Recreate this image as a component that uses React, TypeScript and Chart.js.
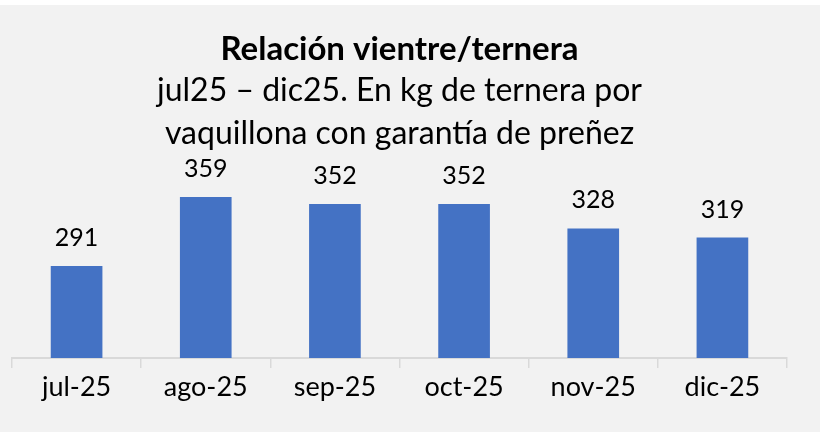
import React, { useEffect, useRef } from "react";
import { Chart, registerables } from "chart.js";

Chart.register(...registerables);

const categories = ["jul-25", "ago-25", "sep-25", "oct-25", "nov-25", "dic-25"];
const values = [291, 359, 352, 352, 328, 319];
const titleText = "Relación vientre/ternera";
const subtitleLines = ["jul25 – dic25. En kg de ternera por", "vaquillona con garantía de preñez"];
const yMin = 200;
const yMax = 400;

const FONT = "Lato, 'Noto Sans', sans-serif";

const bgPlugin = {
  id: "bgPlugin",
  beforeDraw(chart: any) {
    const { ctx, width, height } = chart;
    ctx.save();
    ctx.fillStyle = "#ffffff";
    ctx.fillRect(0, 0, width, height);
    ctx.fillStyle = "#f2f2f2";
    ctx.fillRect(0, 5, width, height - 5);
    ctx.restore();
  },
};

const labelPlugin = {
  id: "labelPlugin",
  afterDatasetsDraw(chart: any) {
    const { ctx } = chart;
    const meta = chart.getDatasetMeta(0);
    ctx.save();
    ctx.font = `25px ${FONT}`;
    ctx.fillStyle = "#000000";
    ctx.textAlign = "center";
    ctx.textBaseline = "alphabetic";
    meta.data.forEach((bar: any, i: number) => {
      ctx.fillText(String(chart.data.datasets[0].data[i]), bar.x, bar.y - 20);
    });
    ctx.restore();
  },
};

export default function App() {
  const ref = useRef<HTMLCanvasElement | null>(null);
  useEffect(() => {
    if (!ref.current) return;
    const chart = new Chart(ref.current, {
      type: "bar",
      data: {
        labels: categories,
        datasets: [
          {
            data: values,
            backgroundColor: "#4472c4",
            barPercentage: 0.4,
            categoryPercentage: 1,
          },
        ],
      },
      options: {
        animation: false,
        responsive: false,
        layout: { padding: { left: 12, right: 33, top: 0, bottom: 25.5 } },
        plugins: {
          legend: { display: false },
          tooltip: { enabled: false },
          title: {
            display: true,
            text: titleText,
            color: "#000000",
            font: { family: FONT, size: 33, weight: "bold", lineHeight: 1.2 },
            padding: { top: 30, bottom: -0.6 },
          },
          subtitle: {
            display: true,
            text: subtitleLines,
            color: "#000000",
            font: { family: FONT, size: 32, weight: "normal", lineHeight: 43 / 32 },
            padding: { top: 0, bottom: 0.5 },
          },
        },
        scales: {
          x: {
            grid: {
              display: true,
              drawOnChartArea: false,
              drawTicks: true,
              tickLength: 10,
              color: "#d9d9d9",
              lineWidth: 1.5,
              offset: true,
            },
            border: { display: true, color: "#d9d9d9", width: 2 },
            ticks: {
              color: "#000000",
              font: { family: FONT, size: 27 },
              padding: 3,
              maxRotation: 0,
            },
          },
          y: {
            display: false,
            min: yMin,
            max: yMax,
          },
        },
      },
      plugins: [bgPlugin, labelPlugin],
    });
    return () => chart.destroy();
  }, []);
  return (
    <div style={{ position: "fixed", left: 0, top: 0, width: 820, height: 432 }}>
      <canvas ref={ref} width={820} height={432} style={{ width: 820, height: 432 }} />
    </div>
  );
}
